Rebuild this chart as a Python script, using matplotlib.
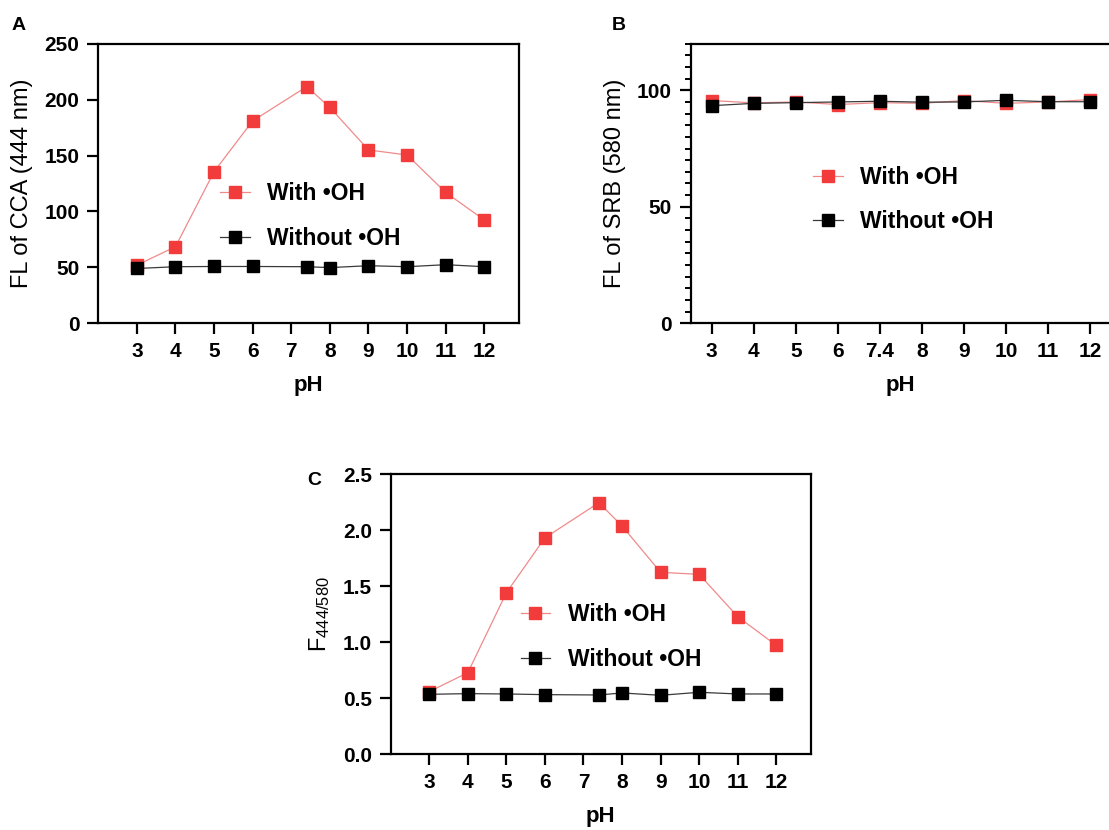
import matplotlib
matplotlib.use("Agg")
import matplotlib.pyplot as plt
from matplotlib.ticker import MultipleLocator

plt.rcParams['font.family'] = ['Liberation Sans', 'DejaVu Sans']
plt.rcParams['mathtext.fontset'] = 'custom'
plt.rcParams['mathtext.rm'] = 'Liberation Sans'
plt.rcParams['mathtext.it'] = 'Liberation Sans'
plt.rcParams['mathtext.bf'] = 'Liberation Sans:bold'

# pH values (7.4 is physiological)
ph = [3, 4, 5, 6, 7.4, 8, 9, 10, 11, 12]
ph_labels = ['3', '4', '5', '6', '7.4', '8', '9', '10', '11', '12']

# Panel A: CCA fluorescence at 444 nm
cca_with = [52, 68.5, 135.6, 181, 211.6, 193, 155, 150.5, 117, 92.4]
cca_without = [49, 50.6, 50.8, 50.8, 50.6, 49.8, 51.5, 50.6, 52.4, 50.6]

# Panel B: SRB fluorescence at 580 nm
srb_with = [95.6, 94.6, 95.0, 93.9, 94.7, 94.4, 95.6, 94.4, 95.0, 96.0]
srb_without = [93.4, 94.4, 94.7, 95.0, 95.3, 94.9, 95.0, 95.7, 95.1, 95.1]

# Panel C: ratio F444/F580
ratio_with = [0.557, 0.726, 1.44, 1.93, 2.244, 2.036, 1.622, 1.604, 1.226, 0.970]
ratio_without = [0.533, 0.539, 0.536, 0.530, 0.527, 0.545, 0.524, 0.551, 0.536, 0.536]

RED_MK = '#F23B3B'
RED_LN = '#F08A8A'
BLK_MK = '#000000'
BLK_LN = '#3A3A3A'

TICK_FS = 15
LABEL_FS = 17
LEG_FS = 16.5

W, H = 1109, 830
fig = plt.figure(figsize=(W / 100, H / 100), dpi=100)


def px_axes(left, top, right, bottom):
    return fig.add_axes([left / W, 1 - bottom / H, (right - left) / W, (bottom - top) / H])


def style(ax):
    for s in ax.spines.values():
        s.set_linewidth(1.6)
    ax.tick_params(axis='both', which='major', direction='out', length=8, width=1.6,
                   labelsize=TICK_FS, pad=5.5)
    for lab in ax.get_xticklabels() + ax.get_yticklabels():
        lab.set_fontweight('bold')


def draw(ax, x, yw, ywo):
    ax.plot(x, yw, color=RED_LN, lw=0.9, marker='s', ms=9, mfc=RED_MK, mec=RED_MK,
            label='With •OH', zorder=3)
    ax.plot(x, ywo, color=BLK_LN, lw=0.9, marker='s', ms=9, mfc=BLK_MK, mec=BLK_MK,
            label='Without •OH', zorder=4)


def legend(ax, x, y):
    ax.legend(loc='center left', bbox_to_anchor=(x, y), frameon=False,
              prop={'weight': 'bold', 'size': LEG_FS}, handlelength=1.3,
              handletextpad=0.75, labelspacing=0.95, borderpad=0, borderaxespad=0)


def labels(ax, ylabel):
    ax.set_xlabel('pH', fontsize=16, fontweight='bold', labelpad=10)
    ax.set_ylabel(ylabel, fontsize=LABEL_FS, labelpad=8)


# ---- Panel A ----
axA = px_axes(98.3, 43.7, 519, 323.3)
draw(axA, ph, cca_with, cca_without)
axA.set_xlim(2.0, 12.9)
axA.set_ylim(0, 250)
axA.set_xticks(range(3, 13))
axA.set_yticks([0, 50, 100, 150, 200, 250])
style(axA)
labels(axA, 'FL of CCA (444 nm)')
legend(axA, 0.289, 0.385)

# ---- Panel B (categorical pH positions) ----
axB = px_axes(690.7, 43.7, 1111, 323.3)
idx = list(range(len(ph)))
axB.axhline(0.7, color='#BBBBBB', lw=0.8, ls=(0, (1, 2)), zorder=1)
draw(axB, idx, srb_with, srb_without)
axB.set_xlim(-0.5, 9.5)
axB.set_ylim(0, 120)
axB.set_xticks(idx)
axB.set_xticklabels(ph_labels)
axB.set_yticks([0, 50, 100])
axB.yaxis.set_minor_locator(MultipleLocator(5))
axB.tick_params(axis='y', which='minor', direction='out', length=4, width=1.4)
style(axB)
labels(axB, 'FL of SRB (580 nm)')
legend(axB, 0.291, 0.443)

# ---- Panel C ----
axC = px_axes(390.7, 474, 811, 754)
draw(axC, ph, ratio_with, ratio_without)
axC.set_xlim(2.0, 12.9)
axC.set_ylim(0, 2.5)
axC.set_xticks(range(3, 13))
axC.set_yticks([0.0, 0.5, 1.0, 1.5, 2.0, 2.5])
axC.set_yticklabels(['0.0', '0.5', '1.0', '1.5', '2.0', '2.5'])
style(axC)
labels(axC, r'F$_{444/580}$')
legend(axC, 0.309, 0.417)

# Panel letters
for letter, x, y in [('A', 12, 25), ('B', 612, 25), ('C', 307, 480)]:
    fig.text(x / W, 1 - y / H, letter, fontsize=14, fontweight='bold',
             ha='left', va='center')

fig.savefig('out.png', dpi=100, facecolor='white')
